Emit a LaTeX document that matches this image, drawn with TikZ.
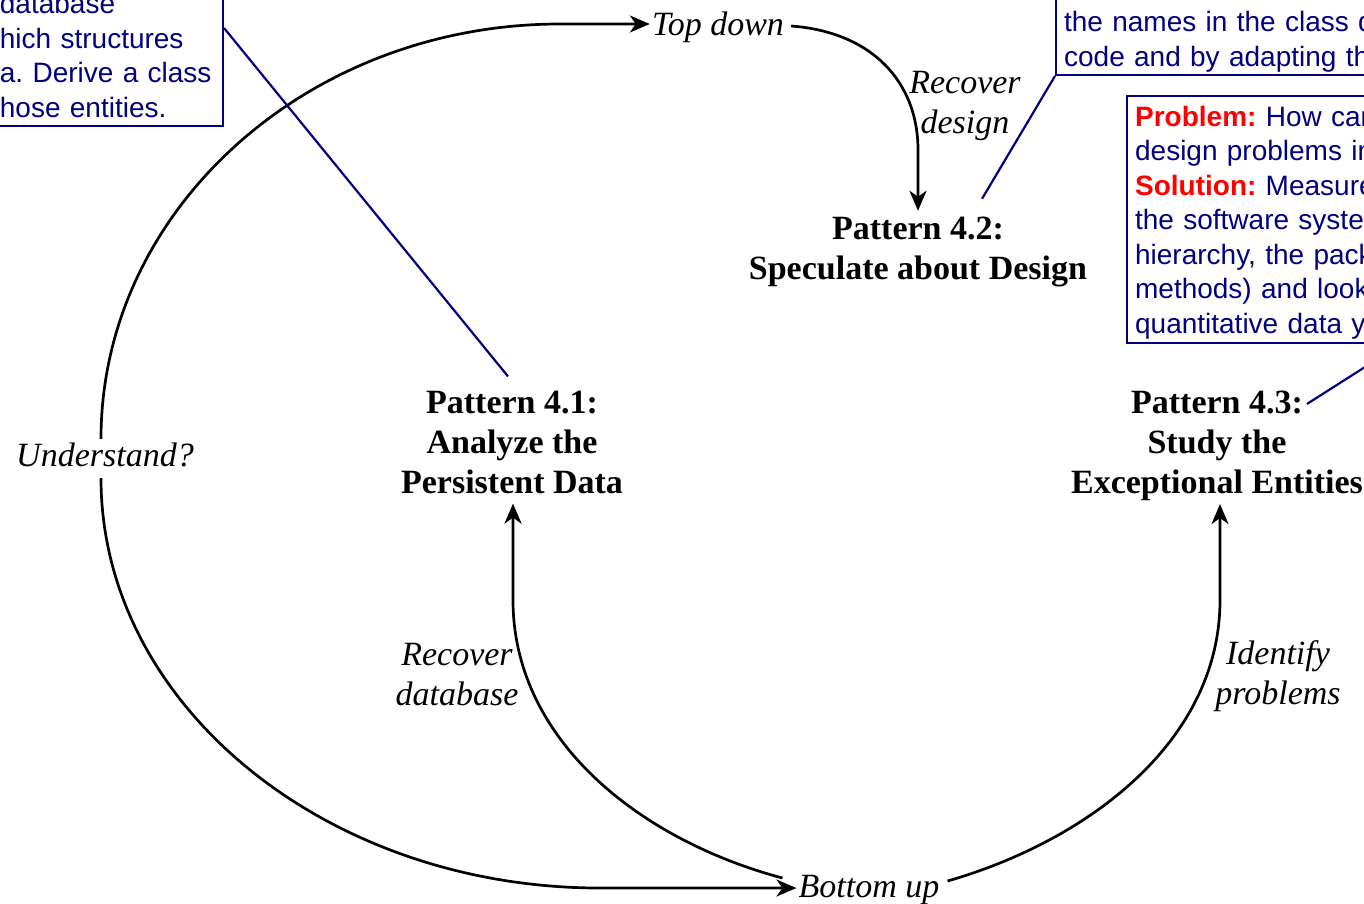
\documentclass[tikz,border=0pt]{standalone}
\usepackage{fontspec}
\setmainfont{Liberation Serif}
\newfontfamily\calloutfont{Liberation Sans}
\usetikzlibrary{arrows.meta,calc}
\definecolor{notenavy}{RGB}{0,0,128}
\definecolor{notered}{RGB}{255,0,0}
\newcommand\notetag[1]{\textcolor{notered}{\bfseries #1}}
\frenchspacing

\begin{document}
\begin{tikzpicture}[x=1pt,y=-1pt,
  flow/.style={line width=2.7pt, black},
  flowarrow/.style={flow, -{Stealth[length=20pt,width=17pt,inset=6pt]}},
  patternlabel/.style={font=\fontsize{34}{40}\selectfont\bfseries, align=center, inner sep=0pt},
  phaselabel/.style={font=\fontsize{34}{40}\selectfont\itshape, inner sep=2pt},
  actionlabel/.style={font=\fontsize{34}{40}\selectfont\itshape, align=center, inner sep=0pt},
  callout/.style={draw=notenavy, line width=2.2pt, text=notenavy, fill=white,
    font=\calloutfont\fontsize{28}{34.5}\selectfont, align=left,
    inner xsep=8pt, inner ysep=2.6pt},
  calloutlink/.style={draw=notenavy, line width=2.2pt}]

% canvas
\useasboundingbox (0,0) rectangle (1364,903);
\clip (0,0) rectangle (1364,903);
\fill[white] (0,0) rectangle (1364,903);

% phases of the loop
\node[phaselabel] (td) at (718,27) {Top down};
\node[phaselabel] (bu) at (869,890) {Bottom up};
\node[phaselabel] (und) at (105,455) {Understand?};

% patterns
\node[patternlabel] (p42) at (918,252) {Pattern 4.2:\\Speculate about Design};
\node[patternlabel] (p41) at (512,442) {Pattern 4.1:\\Analyze the\\Persistent Data};
\node[patternlabel] (p43) at (1217,446) {Pattern 4.3:\\Study the\\Exceptional Entities};

% activities
\node[actionlabel] (a42) at (965,106) {Recover\\design};
\node[actionlabel] (a41) at (457,675) {Recover\\database};
\node[actionlabel] (a43) at (1278,676) {Identify\\problems};

% outer loop
\draw[flowarrow] ($(und.north)+(-4,-2)$) .. controls (101,210) and (307,24) .. (560,24) -- ($(td.west)+(0,-3)$);
\draw[flowarrow] ($(und.south)+(-4,9)$) .. controls (101,704) and (325,888) .. (600,888) -- ($(bu.west)+(0,-2)$);

% inner arrows
\draw[flowarrow] ($(td.east)+(5,-1)$) .. controls (872,32) and (918,82) .. (918,150) -- ($(p42.north)+(0,-6)$);
\draw[flowarrow] ($(bu.west)+(-14,-12)$) .. controls (640,840) and (513,740) .. (513,600) -- ($(p41.south)+(1,10)$);
\draw[flowarrow] ($(bu.east)+(6,-9)$) .. controls (1090,840) and (1220,740) .. (1220,600) -- ($(p43.south)+(3,3)$);

% callouts
\node[callout, text width=215pt, anchor=south east] (cb41) at (224,127)
  {\strut database\\hich structures\\a. Derive a class\\hose entities.\rule[-6pt]{0pt}{0pt}};
\node[callout, text width=330pt, anchor=south west] (cb42) at (1055,76)
  {\strut\\the names in the class d\\code and by adapting th\rule[-6pt]{0pt}{0pt}};
\node[callout, text width=300pt, anchor=north west] (cb43) at (1126,95)
  {\rule{0pt}{27.5pt}\notetag{Problem:} How can\\design problems in\\\notetag{Solution:} Measure\\the software syste\\hierarchy, the pack\\methods) and look\\quantitative data y\rule[-7pt]{0pt}{0pt}};
\coordinate (c43end) at (1420,332);

% callout links
\draw[calloutlink] ($(cb41.north east)+(0,42)$) -- ($(p41.north)+(-4,-14)$);
\draw[calloutlink] (cb42.south west) -- ($(p42.north)+(64,-18)$);
\draw[calloutlink] ($(p43.north)+(90,13)$) -- (c43end);
\end{tikzpicture}
\end{document}
